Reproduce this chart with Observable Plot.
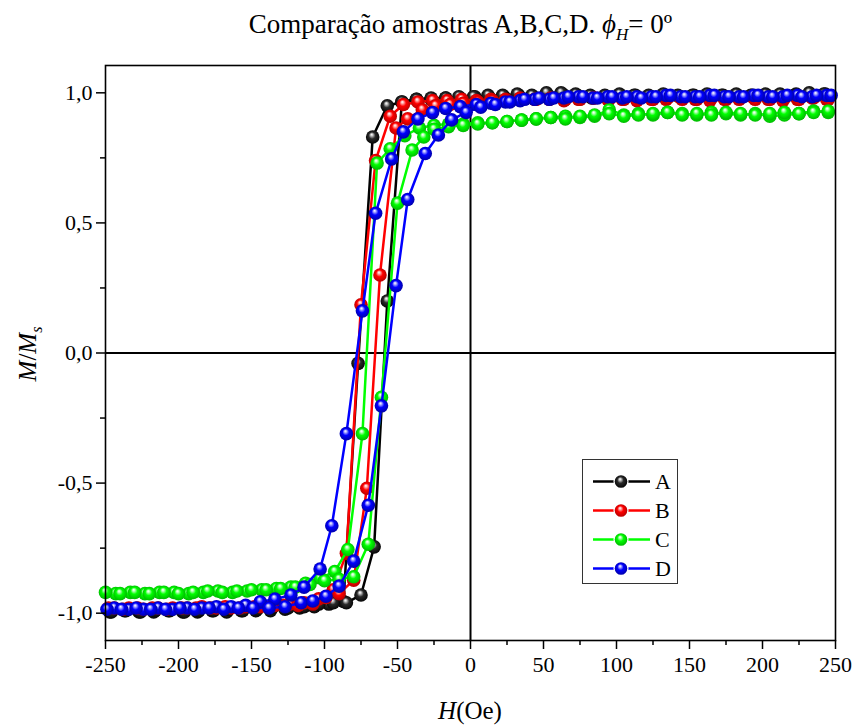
<!DOCTYPE html>
<html>
<head>
<meta charset="utf-8">
<script src="https://cdn.jsdelivr.net/npm/d3@7"></script>
<script src="https://cdn.jsdelivr.net/npm/@observablehq/plot@0.6"></script>
<style>
  body { margin: 0; background: #fff; }
  #wrap { position: relative; width: 853px; height: 727px; font-family: "Liberation Serif", "Times New Roman", serif; color: #000; overflow: hidden; }
  #title { position: relative; height: 50px; }
  #title div { position: absolute; left: 68px; width: 785px; top: 11px; text-align: center; font-size: 27px; line-height: 27px; white-space: nowrap; }
  #title sub { font-size: 17px; vertical-align: -7px; line-height: 0; }
  #xlab { position: absolute; left: 370px; width: 200px; top: 698px; text-align: center; font-size: 25px; line-height: 25px; }
  #ylab { position: absolute; left: 27px; top: 354px; font-size: 25px; line-height: 25px; white-space: nowrap; transform: translate(-50%, -50%) rotate(-90deg); }
  #ylab sub { font-size: 16px; vertical-align: -6px; line-height: 0; }
  #legend { position: absolute; left: 582px; top: 459px; }
  svg { overflow: visible; }
</style>
</head>
<body>
<div id="wrap">
  <div id="title"><div>Comparação amostras A,B,C,D. <i>ϕ</i><sub><i>H</i></sub>= 0º</div></div>
  <div id="chart"></div>
  <div id="xlab"><i>H</i>(Oe)</div>
  <div id="ylab"><i>M</i>/<i>M</i><sub><i>s</i></sub></div>
  <div id="legend"></div>
</div>
<script>
// ---------------- data ----------------
const samples = ["A", "B", "C", "D"];
const colors = ["#000000", "#ff0000", "#00ff00", "#0000ff"];

// Sample A (black)
const A_down_H = [243,233,223,213,203,193,183,173,163,153,143,133,123,113,103,93,83,73,63,53,43,33,23,13,3,-7,-17,-27,-37,-47,-57,-67,-77,-87,-97,-107,-117,-127,-137,-147,-157,-167,-177,-187,-197,-207,-217,-227,-237,-247];
const A_down_M = [0.995,0.99,0.995,0.99,0.985,0.99,0.985,0.99,0.985,0.99,0.985,0.99,0.985,0.99,0.985,0.985,0.98,0.99,0.995,0.99,0.985,0.99,0.985,0.98,0.985,0.98,0.98,0.975,0.975,0.965,0.95,0.83,-0.04,-0.955,-0.965,-0.975,-0.98,-0.985,-0.99,-0.99,-0.99,-0.995,-0.99,-0.995,-0.995,-0.99,-0.995,-0.995,-0.99,-0.995];
const A_up_H = [-246,-236,-226,-216,-206,-196,-186,-176,-166,-156,-146,-136,-125,-114,-104,-94,-85,-75,-66,-57,-47,-37,-27,-17,-8,2,12,22,32,42,52,62,72,82,92,102,112,122,132,142,152,162,172,182,192,202,212,222,232,242];
const A_up_M = [-0.995,-0.99,-0.995,-0.99,-0.99,-0.995,-0.99,-0.99,-0.985,-0.99,-0.985,-0.98,-0.98,-0.975,-0.965,-0.96,-0.96,-0.93,-0.745,0.20,0.965,0.975,0.98,0.98,0.985,0.985,0.99,0.99,0.995,0.99,1.0,1.0,0.995,0.99,0.99,0.995,0.99,0.99,0.995,0.99,0.99,0.995,0.99,0.995,0.99,0.995,0.995,0.99,1.0,0.995];

// Sample B (red)
const B_down_H = [244,234,224,214,204,194,184,174,164,154,144,134,124,114,104,94,84,74,64,54,44,34,24,14,4,-6,-16,-26,-36,-46,-55,-65,-75,-85,-94,-104,-114,-124,-134,-144,-154,-164,-174,-184,-194,-204,-214,-224,-234,-244];
const B_down_M = [0.975,0.98,0.975,0.97,0.975,0.98,0.975,0.975,0.97,0.975,0.98,0.975,0.975,0.97,0.975,0.975,0.98,0.975,0.97,0.975,0.975,0.98,0.975,0.975,0.97,0.975,0.97,0.97,0.965,0.955,0.91,0.74,0.185,-0.77,-0.91,-0.945,-0.96,-0.965,-0.97,-0.975,-0.975,-0.98,-0.98,-0.975,-0.98,-0.98,-0.98,-0.985,-0.98,-0.98];
const B_up_H = [-248,-238,-228,-218,-208,-198,-188,-178,-168,-158,-148,-138,-128,-118,-108,-99,-90,-80,-71,-62,-51,-43,-33,-24,-14,-5,5,15,25,35,45,55,65,75,85,95,105,115,125,135,145,155,165,175,185,195,205,215,225,235,245];
const B_up_M = [-0.98,-0.985,-0.98,-0.98,-0.985,-0.98,-0.98,-0.98,-0.975,-0.98,-0.975,-0.975,-0.97,-0.97,-0.965,-0.94,-0.925,-0.873,-0.52,0.30,0.865,0.90,0.935,0.95,0.955,0.96,0.965,0.97,0.97,0.975,0.975,0.98,0.975,0.975,0.98,0.975,0.975,0.98,0.975,0.98,0.975,0.975,0.98,0.975,0.98,0.975,0.975,0.98,0.975,0.98,0.975];

// Sample C (green)
const C_down_H = [245,235,225,215,205,195,185,175,165,155,145,135,125,115,105,95,85,75,65,55,45,35,25,15,5,-5,-15,-25,-35,-45,-55,-64,-74,-84,-93,-103,-113,-123,-133,-143,-153,-163,-173,-183,-193,-203,-213,-223,-233,-243];
const C_down_M = [0.925,0.93,0.92,0.915,0.91,0.92,0.915,0.92,0.925,0.915,0.92,0.925,0.915,0.92,0.915,0.935,0.91,0.905,0.91,0.905,0.90,0.895,0.89,0.885,0.885,0.88,0.88,0.875,0.865,0.835,0.785,0.73,-0.31,-0.755,-0.84,-0.865,-0.885,-0.9,-0.905,-0.91,-0.915,-0.92,-0.915,-0.92,-0.925,-0.92,-0.92,-0.925,-0.92,-0.925];
const C_up_H = [-250,-240,-230,-220,-210,-200,-190,-180,-170,-160,-150,-140,-130,-120,-110,-100,-90,-80,-70,-61,-50,-40,-32,-25,-15,-5,5,15,25,35,45,55,65,75,85,95,105,115,125,135,145,155,165,175,185,195,205,215,225,235,245];
const C_up_M = [-0.92,-0.925,-0.92,-0.925,-0.92,-0.925,-0.92,-0.915,-0.92,-0.915,-0.91,-0.91,-0.905,-0.9,-0.89,-0.875,-0.87,-0.86,-0.735,-0.17,0.576,0.78,0.83,0.86,0.87,0.875,0.88,0.885,0.89,0.895,0.90,0.905,0.90,0.91,0.915,0.92,0.91,0.915,0.92,0.925,0.915,0.92,0.915,0.925,0.92,0.915,0.92,0.925,0.92,0.925,0.93];

// Sample D (blue)
const D_down_H = [244,234,224,214,204,194,184,174,164,154,144,134,124,114,104,94,84,74,64,54,44,34,24,14,4,-7,-17,-26,-36,-46,-54,-65,-74,-85,-95,-103,-114,-123,-134,-144,-154,-164,-174,-184,-194,-204,-214,-224,-234,-244];
const D_down_M = [0.99,0.985,0.99,0.985,0.985,0.99,0.985,0.985,0.99,0.985,0.985,0.99,0.985,0.985,0.98,0.985,0.98,0.985,0.98,0.975,0.975,0.97,0.965,0.96,0.955,0.947,0.94,0.924,0.90,0.85,0.746,0.537,0.162,-0.31,-0.664,-0.83,-0.90,-0.93,-0.946,-0.956,-0.97,-0.975,-0.975,-0.98,-0.98,-0.985,-0.98,-0.985,-0.985,-0.98];
const D_up_H = [-249,-239,-229,-219,-209,-199,-189,-179,-169,-159,-149,-138,-127,-116,-108,-99,-90,-80,-70,-61,-51,-43,-31,-22,-13,-3,7,17,27,37,47,57,67,77,87,97,107,117,127,137,147,157,167,177,187,197,207,217,227,237,247];
const D_up_M = [-0.985,-0.985,-0.98,-0.985,-0.985,-0.98,-0.985,-0.98,-0.985,-0.98,-0.98,-0.98,-0.975,-0.96,-0.953,-0.935,-0.896,-0.80,-0.585,-0.203,0.259,0.59,0.767,0.838,0.896,0.925,0.945,0.955,0.965,0.975,0.98,0.98,0.985,0.985,0.98,0.985,0.985,0.98,0.985,0.99,0.985,0.985,0.99,0.985,0.985,0.99,0.985,0.99,0.985,0.99,0.99];

// axis ticks
const xMajor = [-250,-200,-150,-100,-50,0,50,100,150,200,250];
const xMinor = [-225,-175,-125,-75,-25,25,75,125,175,225];
const yMajor = [-1,-0.5,0,0.5,1];
const yMinor = [-0.75,-0.25,0.25,0.75];

// ---------------- build ----------------
const branches = {
  A: [[A_down_H, A_down_M], [A_up_H, A_up_M]],
  B: [[B_down_H, B_down_M], [B_up_H, B_up_M]],
  C: [[C_down_H, C_down_M], [C_up_H, C_up_M]],
  D: [[D_down_H, D_down_M], [D_up_H, D_up_M]]
};
const toRows = (H, M) => H.map((h, i) => ({H: h, M: M[i]}));

const marks = [
  Plot.ruleX([0], {stroke: "#000", strokeWidth: 2}),
  Plot.ruleY([0], {stroke: "#000", strokeWidth: 2})
];
samples.forEach((s, k) => {
  const rows = branches[s].map(([H, M]) => toRows(H, M));
  rows.forEach(r => marks.push(Plot.line(r, {x: "H", y: "M", stroke: colors[k], strokeWidth: 2.5})));
  rows.forEach(r => marks.push(Plot.dot(r, {x: "H", y: "M", r: 6.8, fill: `url(#ball${s})`, stroke: "none"})));
});
marks.push(
  Plot.axisX(xMajor, {anchor: "bottom", tickSize: 9, tickPadding: 7, fontSize: 22, strokeWidth: 1.5, tickFormat: d => String(d), label: null}),
  Plot.axisX(xMinor, {anchor: "bottom", tickSize: 5, strokeWidth: 1.5, fill: "none", label: null}),
  Plot.axisY(yMajor, {anchor: "left", tickSize: 9, tickPadding: 4, fontSize: 22, strokeWidth: 1.5, tickFormat: d => d.toFixed(1).replace(".", ","), label: null}),
  Plot.axisY(yMinor, {anchor: "left", tickSize: 5, strokeWidth: 1.5, fill: "none", label: null}),
  Plot.frame({stroke: "#000", strokeWidth: 1.6})
);

const chart = Plot.plot({
  width: 853,
  height: 677,
  marginLeft: 105,
  marginRight: 18,
  marginTop: 15,
  marginBottom: 87,
  style: {fontFamily: '"Liberation Serif", "Times New Roman", serif', fontSize: "22px", background: "#fff", overflow: "visible"},
  x: {domain: [-250, 250]},
  y: {domain: [-1.105, 1.105]},
  marks
});

const darks = ["#000000", "#b00000", "#00b000", "#0000a0"];
const mids = ["#2a2a2a", "#ff0000", "#00ff00", "#0000ff"];
const lights = ["#cfcfcf", "#ffc0c0", "#c8ffc8", "#c0c0ff"];
let defs = "<defs>";
samples.forEach((s, k) => {
  defs += `<radialGradient id="ball${s}" cx="0.5" cy="0.5" r="0.55" fx="0.42" fy="0.3">
    <stop offset="0" stop-color="#ffffff"/>
    <stop offset="0.14" stop-color="${lights[k]}"/>
    <stop offset="0.45" stop-color="${mids[k]}"/>
    <stop offset="1" stop-color="${darks[k]}"/>
  </radialGradient>`;
});
defs += "</defs>";
chart.insertAdjacentHTML("afterbegin", defs);
document.getElementById("chart").appendChild(chart);

// legend (HTML overlay with small svg symbols)
const rowsY = [22.5, 51.5, 80.5, 109.5];
let lg = `<svg width="97" height="126" style="font-family:'Liberation Serif','Times New Roman',serif">
  <rect x="0.5" y="0.5" width="95" height="124" fill="#fff" stroke="#333" stroke-width="1"/>`;
samples.forEach((s, k) => {
  const y = rowsY[k];
  lg += `<line x1="11" x2="68" y1="${y}" y2="${y}" stroke="${colors[k]}" stroke-width="2.5"/>
    <circle cx="39" cy="${y}" r="6.3" fill="url(#ball${s})" stroke="#fff" stroke-width="2.5"/>
    <circle cx="39" cy="${y}" r="6.3" fill="url(#ball${s})"/>
    <text x="73" y="${y + 7.5}" font-size="22">${s}</text>`;
});
lg += "</svg>";
document.getElementById("legend").innerHTML = lg;
</script>
</body>
</html>
